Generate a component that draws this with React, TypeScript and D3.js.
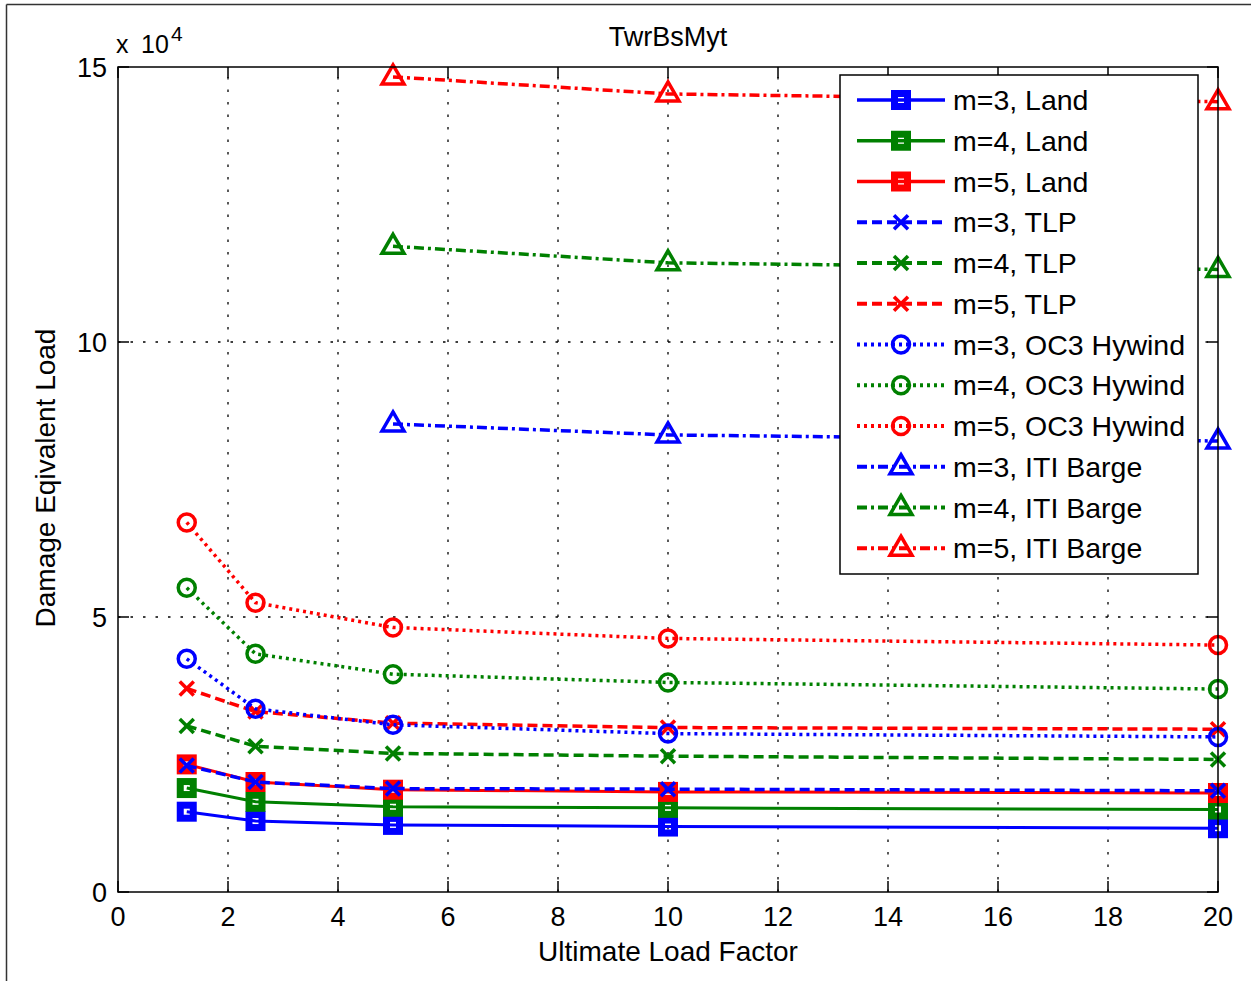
import React from 'react';
import * as d3 from 'd3';

// Ultimate load factor values
const xValues = [1.25, 2.5, 5, 10, 20];
const xValuesBarge = [5, 10, 20];

// Damage equivalent loads
const landM3 = [14600, 12900, 12200, 11900, 11600];
const landM4 = [18900, 16400, 15500, 15300, 15000];
const landM5 = [23200, 20000, 18600, 18200, 18000];
const tlpM3 = [23000, 20000, 18800, 18700, 18400];
const tlpM4 = [30200, 26500, 25200, 24700, 24100];
const tlpM5 = [37000, 32800, 30700, 29900, 29600];
const oc3M3 = [42400, 33300, 30400, 28800, 28200];
const oc3M4 = [55300, 43300, 39600, 38100, 36900];
const oc3M5 = [67200, 52600, 48100, 46100, 44900];
const itiM3 = [85100, 83100, 82000];
const itiM4 = [117400, 114400, 113200];
const itiM5 = [148200, 145100, 143700];

const xTicks = [0, 2, 4, 6, 8, 10, 12, 14, 16, 18, 20];
const yTicks = [0, 50000, 100000, 150000];

const seriesNames = [
  'm=3, Land', 'm=4, Land', 'm=5, Land',
  'm=3, TLP', 'm=4, TLP', 'm=5, TLP',
  'm=3, OC3 Hywind', 'm=4, OC3 Hywind', 'm=5, OC3 Hywind',
  'm=3, ITI Barge', 'm=4, ITI Barge', 'm=5, ITI Barge',
];

const BLUE = '#0000ff';
const GREEN = '#008000';
const RED = '#ff0000';

type Marker = 'square' | 'x' | 'circle' | 'triangle';
interface Series { name: string; xs: number[]; ys: number[]; color: string; dash: string | null; marker: Marker; width: number; }

const styles = [
  { dash: null, marker: 'square' as Marker, width: 3 },
  { dash: '10,5', marker: 'x' as Marker, width: 3.5 },
  { dash: '3,4', marker: 'circle' as Marker, width: 3.5 },
  { dash: '10,4,3,4', marker: 'triangle' as Marker, width: 3.5 },
];
const colors = [BLUE, GREEN, RED];
const dataSets = [landM3, landM4, landM5, tlpM3, tlpM4, tlpM5, oc3M3, oc3M4, oc3M5, itiM3, itiM4, itiM5];

const series: Series[] = dataSets.map((ys, i) => {
  const g = Math.floor(i / 3);
  return {
    name: seriesNames[i],
    xs: g === 3 ? xValuesBarge : xValues,
    ys,
    color: colors[i % 3],
    dash: styles[g].dash,
    marker: styles[g].marker,
    width: styles[g].width,
  };
});

const FONT = '"Liberation Sans", Arial, Helvetica, sans-serif';

function MarkerShape({ type, x, y, color }: { type: Marker; x: number; y: number; color: string }) {
  if (type === 'square') {
    return <rect x={x - 6.5} y={y - 6.5} width={13} height={13} fill="none" stroke={color} strokeWidth={7} />;
  }
  if (type === 'x') {
    return (
      <g stroke={color} strokeWidth={3.5}>
        <line x1={x - 7} y1={y - 7} x2={x + 7} y2={y + 7} />
        <line x1={x - 7} y1={y + 7} x2={x + 7} y2={y - 7} />
      </g>
    );
  }
  if (type === 'circle') {
    return <circle cx={x} cy={y} r={8.5} fill="none" stroke={color} strokeWidth={3.5} />;
  }
  return (
    <polygon
      points={`${x},${y - 12} ${x + 11},${y + 7} ${x - 11},${y + 7}`}
      fill="none"
      stroke={color}
      strokeWidth={3.5}
      strokeLinejoin="miter"
    />
  );
}

export default function App() {
  const width = 1251;
  const height = 981;
  const left = 118, right = 1218, top = 67, bottom = 892;
  const x = d3.scaleLinear().domain([0, 20]).range([left, right]);
  const y = d3.scaleLinear().domain([0, 150000]).range([bottom, top]);
  const line = d3.line<[number, number]>().x(d => x(d[0])).y(d => y(d[1]));
  const tickLen = 11;

  const legX = 840, legY = 75, legW = 358, legH = 499;
  const legRow0 = 100, legStep = 40.75;

  return (
    <svg width={width} height={height} style={{ position: 'absolute', left: 0, top: 0, background: '#fff' }} fontFamily={FONT}>
      <rect x={0} y={0} width={width} height={height} fill="#fff" />
      {/* outer frame */}
      <line x1={6.5} y1={4.5} x2={width} y2={4.5} stroke="#333" strokeWidth={1.5} />
      <line x1={6.5} y1={4.5} x2={6.5} y2={height} stroke="#333" strokeWidth={1.5} />

      {/* grid */}
      <g stroke="#000" strokeWidth={1.3} strokeDasharray="2.5,10">
        {xTicks.filter(t => t > 0 && t < 20).map(t => (
          <line key={'gx' + t} x1={x(t)} x2={x(t)} y1={bottom} y2={top} />
        ))}
        {yTicks.filter(t => t > 0 && t < 150000).map(t => (
          <line key={'gy' + t} x1={left} x2={right} y1={y(t)} y2={y(t)} />
        ))}
      </g>

      {/* series */}
      {series.map((s, i) => {
        const pts = s.xs.map((xv, k) => [xv, s.ys[k]] as [number, number]);
        return (
          <g key={'s' + i}>
            <path d={line(pts) || ''} fill="none" stroke={s.color} strokeWidth={s.width} strokeDasharray={s.dash || undefined} />
            {pts.map((p, k) => (
              <MarkerShape key={k} type={s.marker} x={x(p[0])} y={y(p[1])} color={s.color} />
            ))}
          </g>
        );
      })}

      {/* axes box and ticks */}
      <rect x={left} y={top} width={right - left} height={bottom - top} fill="none" stroke="#000" strokeWidth={1.5} />
      <g stroke="#000" strokeWidth={1.5}>
        {xTicks.map(t => (
          <g key={'tx' + t}>
            <line x1={x(t)} x2={x(t)} y1={bottom} y2={bottom - tickLen} />
            <line x1={x(t)} x2={x(t)} y1={top} y2={top + tickLen} />
          </g>
        ))}
        {yTicks.map(t => (
          <g key={'ty' + t}>
            <line x1={left} x2={left + tickLen} y1={y(t)} y2={y(t)} />
            <line x1={right} x2={right - tickLen} y1={y(t)} y2={y(t)} />
          </g>
        ))}
      </g>

      {/* tick labels */}
      <g fontSize={27} fill="#000">
        {xTicks.map(t => (
          <text key={'lx' + t} x={x(t)} y={926} textAnchor="middle">{t}</text>
        ))}
        {yTicks.map(t => (
          <text key={'ly' + t} x={107} y={y(t) + 9.5} textAnchor="end">{t / 10000}</text>
        ))}
      </g>
      <text x={116} y={53} fontSize={25} fill="#000">x</text>
      <text x={141} y={53} fontSize={25} fill="#000">10</text>
      <text x={171} y={41} fontSize={21} fill="#000">4</text>

      {/* titles */}
      <text x={668} y={46} fontSize={27} textAnchor="middle" fill="#000">TwrBsMyt</text>
      <text x={668} y={961} fontSize={28} textAnchor="middle" fill="#000">Ultimate Load Factor</text>
      <text transform={`translate(55, 478) rotate(-90)`} fontSize={28} textAnchor="middle" fill="#000">Damage Eqivalent Load</text>

      {/* legend */}
      <rect x={legX} y={legY} width={legW} height={legH} fill="#fff" stroke="#000" strokeWidth={1.5} />
      {series.map((s, i) => {
        const ly = legRow0 + i * legStep;
        return (
          <g key={'lg' + i}>
            <line x1={857} x2={945} y1={ly} y2={ly} stroke={s.color} strokeWidth={s.width + 0.5} strokeDasharray={s.dash || undefined} />
            <MarkerShape type={s.marker} x={901} y={ly} color={s.color} />
            <text x={953} y={ly + 10} fontSize={28.5} fill="#000">{s.name}</text>
          </g>
        );
      })}
    </svg>
  );
}
